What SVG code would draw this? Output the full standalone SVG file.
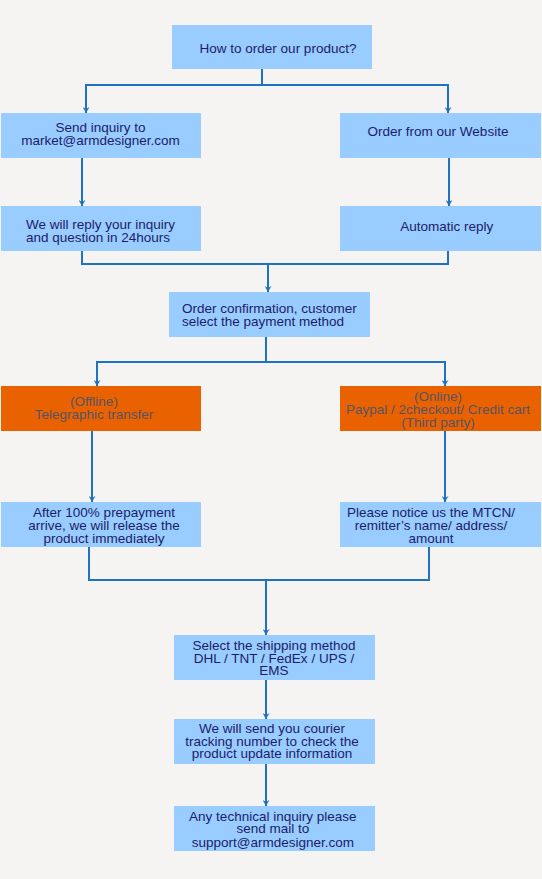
<svg xmlns="http://www.w3.org/2000/svg" width="542" height="879" viewBox="0 0 542 879">
<style>
.box{fill:#99ccff}
.org{fill:#ea6100}
.t{font-family:"Liberation Sans",Arial,sans-serif;font-size:13.5px;fill:#1c1c6a}
.to{font-family:"Liberation Sans",Arial,sans-serif;font-size:13.5px;fill:#555566}
.c{text-anchor:middle}
.ln{fill:none;stroke:#1f72bf;stroke-width:2}
</style>
<defs>
<marker id="ah" markerUnits="userSpaceOnUse" markerWidth="8" markerHeight="7" refX="3.5" refY="6" orient="auto" viewBox="0 0 8 7">
<path d="M0,0 L3.5,2 L7,0 L3.5,6 Z" fill="#1f72bf" transform="rotate(-90 3.5 3)"/>
</marker>
<marker id="ad" markerUnits="userSpaceOnUse" markerWidth="8" markerHeight="7" refX="3.5" refY="6" orient="0" viewBox="0 0 8 7">
<path d="M0,0 L3.5,2 L7,0 L3.5,6 Z" fill="#1f72bf"/>
</marker>
</defs>
<rect width="542" height="879" fill="#f5f4f2"/>
<g id="connectors">
<path class="ln" d="M262,69 V85 H86 V113" marker-end="url(#ad)"/>
<path class="ln" d="M262,85 H448 V113" marker-end="url(#ad)"/>
<path class="ln" d="M82,158 V206" marker-end="url(#ad)"/>
<path class="ln" d="M449,158 V206" marker-end="url(#ad)"/>
<path class="ln" d="M82,251 V264 H448 V251"/>
<path class="ln" d="M268,264 V292" marker-end="url(#ad)"/>
<path class="ln" d="M266,337 V362 H97 V386" marker-end="url(#ad)"/>
<path class="ln" d="M266,362 H445 V386" marker-end="url(#ad)"/>
<path class="ln" d="M92,431 V502" marker-end="url(#ad)"/>
<path class="ln" d="M445,431 V502" marker-end="url(#ad)"/>
<path class="ln" d="M89,547 V580 H429 V547"/>
<path class="ln" d="M266,580 V635" marker-end="url(#ad)"/>
<path class="ln" d="M266,680 V719" marker-end="url(#ad)"/>
<path class="ln" d="M266,764 V806" marker-end="url(#ad)"/>
</g>
<g id="n1"><rect class="box" x="172" y="25" width="200" height="44"/>
<text class="t c" x="278" y="53">How to order our product?</text></g>
<g id="n2"><rect class="box" x="1" y="113" width="200" height="45"/>
<text class="t c" x="100.5" y="132.3">Send inquiry to</text>
<text class="t c" x="100.5" y="145">market@armdesigner.com</text></g>
<g id="n3"><rect class="box" x="340" y="113" width="201" height="45"/>
<text class="t c" x="438" y="136">Order from our Website</text></g>
<g id="n4"><rect class="box" x="1" y="206" width="200" height="45"/>
<text class="t" x="26" y="229.3">We will reply your inquiry</text>
<text class="t" x="26" y="241.7">and question in 24hours</text></g>
<g id="n5"><rect class="box" x="340" y="206" width="201" height="45"/>
<text class="t c" x="446.7" y="231">Automatic reply</text></g>
<g id="n6"><rect class="box" x="169" y="292" width="201" height="45"/>
<text class="t" x="182" y="313.3">Order confirmation, customer</text>
<text class="t" x="182" y="326">select the payment method</text></g>
<g id="n7"><rect class="org" x="1" y="386" width="200" height="45"/>
<text class="to c" x="94" y="406">(Offline)</text>
<text class="to c" x="94" y="419">Telegraphic transfer</text></g>
<g id="n8"><rect class="org" x="340" y="386" width="201" height="45"/>
<text class="to c" x="438" y="401">(Online)</text>
<text class="to c" x="438" y="414">Paypal / 2checkout/ Credit cart</text>
<text class="to c" x="438" y="427">(Third party)</text></g>
<g id="n9"><rect class="box" x="1" y="502" width="200" height="45"/>
<text class="t c" x="104" y="517.3">After 100% prepayment</text>
<text class="t c" x="104" y="530">arrive, we will release the</text>
<text class="t c" x="104" y="542.7">product immediately</text></g>
<g id="n10"><rect class="box" x="340" y="502" width="201" height="45"/>
<text class="t c" x="431" y="517.3">Please notice us the MTCN/</text>
<text class="t c" x="431" y="530">remitter’s name/ address/</text>
<text class="t c" x="431" y="542.7">amount</text></g>
<g id="n11"><rect class="box" x="174" y="635" width="201" height="45"/>
<text class="t c" x="274" y="650">Select the shipping method</text>
<text class="t c" x="274" y="662.7">DHL / TNT / FedEx / UPS /</text>
<text class="t c" x="274" y="675.3">EMS</text></g>
<g id="n12"><rect class="box" x="174" y="719" width="201" height="45"/>
<text class="t c" x="272" y="733.3">We will send you courier</text>
<text class="t c" x="272" y="745.7">tracking number to check the</text>
<text class="t c" x="272" y="758.3">product update information</text></g>
<g id="n13"><rect class="box" x="174" y="806" width="201" height="45"/>
<text class="t c" x="272.8" y="821">Any technical inquiry please</text>
<text class="t c" x="272.8" y="833.3">send mail to</text>
<text class="t c" x="272.8" y="846.7">support@armdesigner.com</text></g>
</svg>
